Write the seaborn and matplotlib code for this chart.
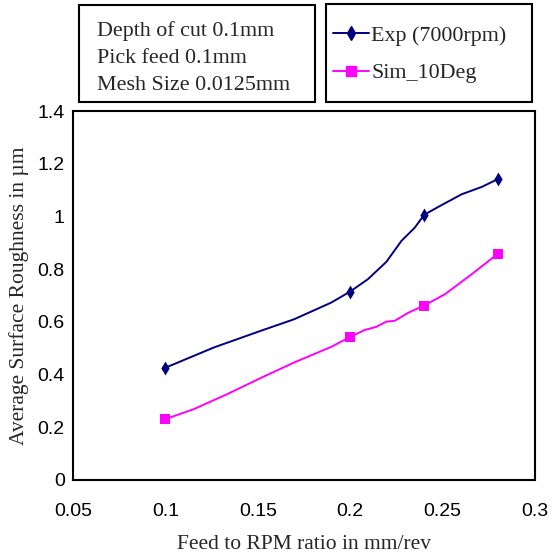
import matplotlib
matplotlib.use("Agg")
import matplotlib.pyplot as plt
import seaborn as sns
import pandas as pd
from matplotlib.patches import Rectangle
from matplotlib.lines import Line2D

# marker data
feed_ratio = [0.1, 0.2, 0.24, 0.28]
exp_ra = [0.426, 0.715, 1.006, 1.142]
sim_ra = [0.231, 0.543, 0.662, 0.859]

# traced smoothed curves
exp_curve_x = [0.1, 0.1263, 0.1516, 0.1697, 0.1897, 0.2, 0.2096, 0.2196, 0.2277, 0.2350, 0.24, 0.2476, 0.2603, 0.2712, 0.28]
exp_curve_y = [0.426, 0.503, 0.566, 0.610, 0.673, 0.715, 0.762, 0.828, 0.907, 0.958, 1.006, 1.036, 1.084, 1.112, 1.142]
sim_curve_x = [0.1, 0.1154, 0.1335, 0.1516, 0.1697, 0.1897, 0.2, 0.2078, 0.2141, 0.2196, 0.2241, 0.2313, 0.24, 0.2513, 0.2658, 0.28]
sim_curve_y = [0.231, 0.269, 0.326, 0.387, 0.446, 0.505, 0.543, 0.569, 0.581, 0.601, 0.604, 0.634, 0.662, 0.705, 0.781, 0.859]

x_ticks = [0.05, 0.1, 0.15, 0.2, 0.25, 0.3]
x_tick_labels = ["0.05", "0.1", "0.15", "0.2", "0.25", "0.3"]
y_ticks = [0, 0.2, 0.4, 0.6, 0.8, 1.0, 1.2, 1.4]
y_tick_labels = ["0", "0.2", "0.4", "0.6", "0.8", "1", "1.2", "1.4"]

sns.set_style("white")
plt.rcParams["font.family"] = ["Liberation Sans", "DejaVu Sans"]

W, H = 556, 554
fig = plt.figure(figsize=(W / 100, H / 100), dpi=100)
ax = fig.add_axes([73 / W, 1 - 480 / H, (535 - 73) / W, (480 - 111) / H])

navy = "#000080"
magenta = "#FF00FF"

exp_curve = pd.DataFrame({"x": exp_curve_x, "y": exp_curve_y})
sim_curve = pd.DataFrame({"x": sim_curve_x, "y": sim_curve_y})
sns.lineplot(data=exp_curve, x="x", y="y", ax=ax, color=navy, lw=1.4, sort=False)
sns.lineplot(data=sim_curve, x="x", y="y", ax=ax, color=magenta, lw=1.4, sort=False)

pts = pd.DataFrame({"x": feed_ratio, "exp": exp_ra, "sim": sim_ra})
sns.scatterplot(data=pts, x="x", y="exp", ax=ax, marker="d", color=navy, s=50, edgecolor=navy, linewidth=0, zorder=5)
sns.scatterplot(data=pts, x="x", y="sim", ax=ax, marker="s", color=magenta, s=55, edgecolor=magenta, linewidth=0, zorder=5)

ax.set_xlim(0.05, 0.3)
ax.set_ylim(0, 1.4)
ax.set_xticks(x_ticks)
ax.set_xticklabels(x_tick_labels)
ax.set_yticks(y_ticks)
ax.set_yticklabels(y_tick_labels)
ax.tick_params(direction="in", length=6, width=1.2, labelsize=14, colors="black")
ax.tick_params(axis="x", pad=16.5)
ax.tick_params(axis="y", pad=6)
for s in ax.spines.values():
    s.set_color("black")
    s.set_linewidth(1.5)

serif = ["Liberation Serif", "DejaVu Serif"]
FS = 15.8
ax.set_xlabel("Feed to RPM ratio in mm/rev", family=serif, fontsize=15.5, labelpad=11)
ax.set_ylabel("Average Surface Roughness in µm", family=serif, fontsize=15.5, labelpad=6)

# info box
fig.patches.append(Rectangle((79 / W, 1 - 102 / H), (315 - 79) / W, (102 - 5) / H,
                             transform=fig.transFigure, fill=False, ec="black", lw=1.5))
info_lines = ["Depth of cut 0.1mm", "Pick feed 0.1mm", "Mesh Size 0.0125mm"]
for i, t in enumerate(info_lines):
    fig.text(97 / W, 1 - (36 + 27 * i) / H, t, family=serif, fontsize=FS, va="baseline")

# legend box + legend
fig.patches.append(Rectangle((326 / W, 1 - 102 / H), (532 - 326) / W, (102 - 4) / H,
                             transform=fig.transFigure, fill=False, ec="black", lw=1.5))
handles = [Line2D([], [], color=navy, lw=1.4, marker="d", markersize=7),
           Line2D([], [], color=magenta, lw=1.4, marker="s", markersize=6.5)]
leg = ax.legend(handles, ["Exp (7000rpm)", "Sim_10Deg"], loc="upper left",
                bbox_to_anchor=(326 / W, 1 - 18.5 / H),
                bbox_transform=fig.transFigure, borderaxespad=0,
                frameon=False, handlelength=1.64,
                handletextpad=0.1, labelspacing=0.78, borderpad=0.32,
                prop={"family": serif, "size": FS})

fig.savefig("out.png", dpi=100)
